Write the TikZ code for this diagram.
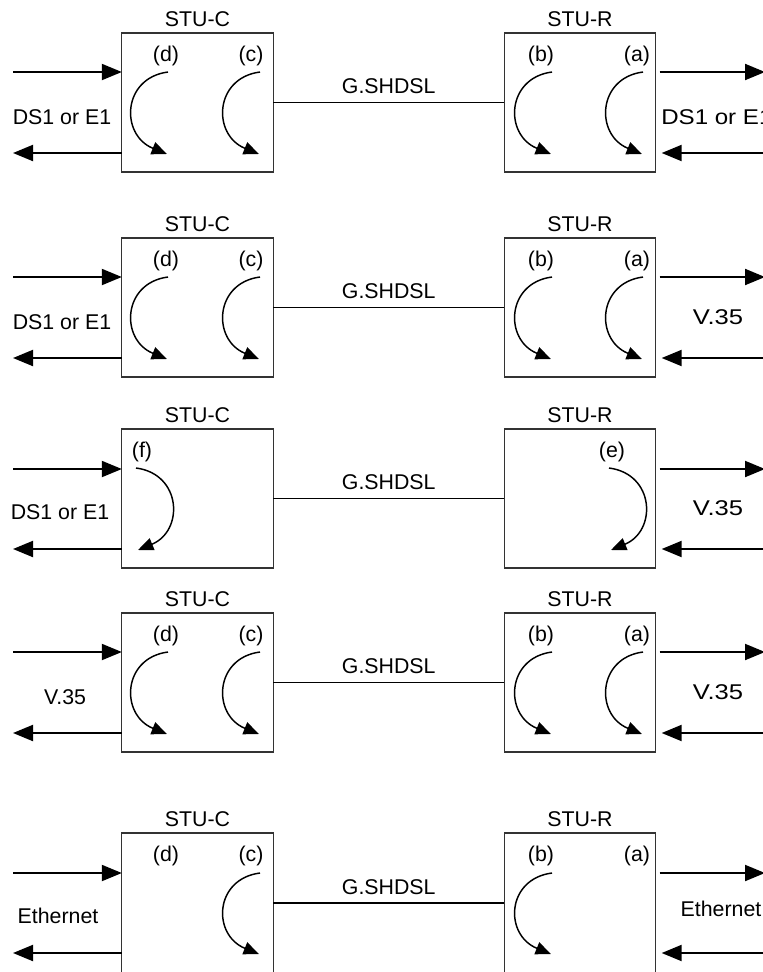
\documentclass[tikz,border=0pt]{standalone}
\usepackage{graphicx}
\usepackage{fontspec}
\setmainfont{Liberation Sans}
\usetikzlibrary{arrows.meta}
\newcommand\myarcL[3]{\draw[loopar] (#1,#2) .. controls ({#1-46},{#2+6}) and ({#1-48},{#3-19}) .. ({#1-1},#3);}
\newcommand\myarcR[3]{\draw[loopar] (#1,#2) .. controls ({#1+46},{#2+6}) and ({#1+48},{#3-19}) .. ({#1+2},#3);}
\newcommand\mywide[2]{\scalebox{#1}[1]{#2}}
\tikzset{
  io/.style={line width=1.5pt, -{Triangle[length=15pt,width=12pt]}},
  loopar/.style={line width=1.1pt, -{Triangle[length=11.5pt,width=9.5pt]}},
  box/.style={draw=black!80, line width=0.8pt, minimum width=113.5pt, minimum height=104.25pt, inner sep=0pt, outer sep=0pt},
  lbl/.style={font=\fontsize{16}{19}\selectfont, inner sep=0pt},
  link/.style={line width=1.1pt},
}
\begin{document}
\begin{tikzpicture}[x=0.75pt,y=-0.75pt]
\useasboundingbox (0,0) rectangle (763,972);
\clip (0,0) rectangle (763,972);

% ---------- Panel 1 ----------
\node[box] (C1) at (197.5,102.5) {};
\node[box] (R1) at (580,102.5) {};
\node[lbl] (C1t) at (197.5,19) {STU-C};
\node[lbl] (R1t) at (580,19) {STU-R};
\node[lbl] (C1d) at (166,56) {(d)};
\node[lbl] (C1c) at (251,56) {(c)};
\node[lbl] (R1b) at (541,56) {(b)};
\node[lbl] (R1a) at (637,56) {(a)};
\draw[link] (C1.east) -- node[lbl, midway, yshift=12pt] {G.SHDSL} (R1.west);
\coordinate (C1in) at (13,72);
\coordinate (C1out) at (13,153);
\coordinate (R1out) at (765,72);
\coordinate (R1in) at (765,153);
\draw[io] (C1in) -- (C1.west |- C1in);
\draw[io] (C1.west |- C1out) -- (C1out);
\draw[io] ([xshift=3pt]R1.east |- R1out) -- (R1out);
\draw[io] (R1in) -- ([xshift=4.5pt]R1.east |- R1in);
\node[lbl] (C1if) at (62,117) {DS1 or E1};
\node[lbl, anchor=west] (R1if) at (661,117) {\mywide{1.13}{DS1 or E1}};
\myarcL{168}{72}{154}
\myarcL{260}{72}{154}
\myarcL{552}{72}{154}
\myarcL{643}{72}{154}

% ---------- Panel 2 ----------
\node[box] (C2) at (197.5,307.5) {};
\node[box] (R2) at (580,307.5) {};
\node[lbl] (C2t) at (197.5,224) {STU-C};
\node[lbl] (R2t) at (580,224) {STU-R};
\node[lbl] (C2d) at (166,261) {(d)};
\node[lbl] (C2c) at (251,261) {(c)};
\node[lbl] (R2b) at (541,261) {(b)};
\node[lbl] (R2a) at (637,261) {(a)};
\draw[link] (C2.east) -- node[lbl, midway, yshift=12pt] {G.SHDSL} (R2.west);
\coordinate (C2in) at (13,277);
\coordinate (C2out) at (13,358);
\coordinate (R2out) at (765,277);
\coordinate (R2in) at (765,358);
\draw[io] (C2in) -- (C2.west |- C2in);
\draw[io] (C2.west |- C2out) -- (C2out);
\draw[io] ([xshift=3pt]R2.east |- R2out) -- (R2out);
\draw[io] (R2in) -- ([xshift=4.5pt]R2.east |- R2in);
\node[lbl] (C2if) at (62,322) {DS1 or E1};
\node[lbl] (R2if) at (718,317) {\mywide{1.2}{V.35}};
\myarcL{168}{277}{359}
\myarcL{260}{277}{359}
\myarcL{552}{277}{359}
\myarcL{643}{277}{359}

% ---------- Panel 3 ----------
\node[box] (C3) at (197.5,498.5) {};
\node[box] (R3) at (580,498.5) {};
\node[lbl] (C3t) at (197.5,415) {STU-C};
\node[lbl] (R3t) at (580,415) {STU-R};
\node[lbl] (C3f) at (142,452) {(f)};
\node[lbl] (R3e) at (612,452) {(e)};
\draw[link] (C3.east) -- node[lbl, midway, yshift=12pt] {G.SHDSL} (R3.west);
\coordinate (C3in) at (13,469);
\coordinate (C3out) at (13,549);
\coordinate (R3out) at (765,469);
\coordinate (R3in) at (765,549);
\draw[io] (C3in) -- (C3.west |- C3in);
\draw[io] (C3.west |- C3out) -- (C3out);
\draw[io] ([xshift=3pt]R3.east |- R3out) -- (R3out);
\draw[io] (R3in) -- ([xshift=4.5pt]R3.east |- R3in);
\node[lbl] (C3if) at (60,512) {DS1 or E1};
\node[lbl] (R3if) at (718,508) {\mywide{1.2}{V.35}};
\myarcR{136}{468}{550}
\myarcR{609}{468}{550}

% ---------- Panel 4 ----------
\node[box] (C4) at (197.5,682.5) {};
\node[box] (R4) at (580,682.5) {};
\node[lbl] (C4t) at (197.5,599) {STU-C};
\node[lbl] (R4t) at (580,599) {STU-R};
\node[lbl] (C4d) at (166,636) {(d)};
\node[lbl] (C4c) at (251,636) {(c)};
\node[lbl] (R4b) at (541,636) {(b)};
\node[lbl] (R4a) at (637,636) {(a)};
\draw[link] (C4.east) -- node[lbl, midway, yshift=12pt] {G.SHDSL} (R4.west);
\coordinate (C4in) at (13,652);
\coordinate (C4out) at (13,733);
\coordinate (R4out) at (765,652);
\coordinate (R4in) at (765,733);
\draw[io] (C4in) -- (C4.west |- C4in);
\draw[io] (C4.west |- C4out) -- (C4out);
\draw[io] ([xshift=3pt]R4.east |- R4out) -- (R4out);
\draw[io] (R4in) -- ([xshift=4.5pt]R4.east |- R4in);
\node[lbl] (C4if) at (65,697) {V.35};
\node[lbl] (R4if) at (718,692) {\mywide{1.2}{V.35}};
\myarcL{168}{652}{734}
\myarcL{260}{652}{734}
\myarcL{552}{652}{734}
\myarcL{643}{652}{734}

% ---------- Panel 5 ----------
\node[box, minimum height=112.5pt] (C5) at (197.5,908) {};
\node[box, minimum height=112.5pt] (R5) at (580,908) {};
\node[lbl] (C5t) at (197.5,819) {STU-C};
\node[lbl] (R5t) at (580,819) {STU-R};
\node[lbl] (C5d) at (166,856) {(d)};
\node[lbl] (C5c) at (251,856) {(c)};
\node[lbl] (R5b) at (541,856) {(b)};
\node[lbl] (R5a) at (637,856) {(a)};
\coordinate (L5) at (388,903);
\draw[link] (C5.east |- L5) -- node[lbl, midway, yshift=12pt] {G.SHDSL} (R5.west |- L5);
\coordinate (C5in) at (13,873);
\coordinate (C5out) at (13,953);
\coordinate (R5out) at (765,873);
\coordinate (R5in) at (765,953);
\draw[io] (C5in) -- (C5.west |- C5in);
\draw[io] (C5.west |- C5out) -- (C5out);
\draw[io] ([xshift=3pt]R5.east |- R5out) -- (R5out);
\draw[io] (R5in) -- ([xshift=4.5pt]R5.east |- R5in);
\node[lbl] (C5if) at (58,916) {Ethernet};
\node[lbl] (R5if) at (721,909) {Ethernet};
\myarcL{260}{873}{954}
\myarcL{552}{873}{954}
\end{tikzpicture}
\end{document}
